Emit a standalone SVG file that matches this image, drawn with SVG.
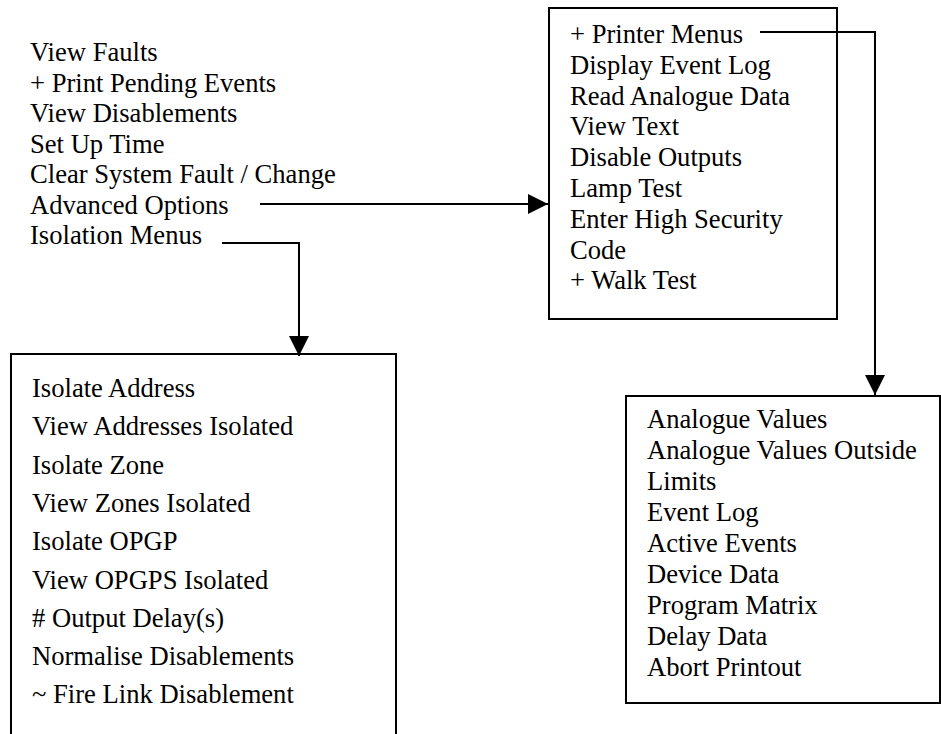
<svg xmlns="http://www.w3.org/2000/svg" width="941" height="734" viewBox="0 0 941 734">
<style>
text{font-family:"Liberation Serif",Tinos,"Times New Roman","DejaVu Serif",serif;font-size:26.6px;fill:#000}
.box{fill:#fff;stroke:#000;stroke-width:2}
.conn{fill:none;stroke:#000;stroke-width:2}
</style>
<defs>
<marker id="ah" viewBox="0 0 20 20" markerWidth="20" markerHeight="20" refX="20" refY="10" orient="auto" markerUnits="userSpaceOnUse">
<path d="M0,0 L20,10 L0,20 Z" fill="#000"/>
</marker>
</defs>
<rect width="941" height="734" fill="#fff"/>
<g id="main-menu" font-family="Liberation Serif, serif">
<text x="30" y="61">View Faults</text>
<text x="30" y="91.5">+ Print Pending Events</text>
<text x="30" y="122">View Disablements</text>
<text x="30" y="152.5">Set Up Time</text>
<text x="30" y="183">Clear System Fault / Change</text>
<text x="30" y="213.5">Advanced Options</text>
<text x="30" y="244">Isolation Menus</text>
</g>
<g id="advanced-options">
<rect class="box" x="549" y="8" width="288" height="311"/>
<text x="570" y="43">+ Printer Menus</text>
<text x="570" y="74">Display Event Log</text>
<text x="570" y="104.5">Read Analogue Data</text>
<text x="570" y="135">View Text</text>
<text x="570" y="166">Disable Outputs</text>
<text x="570" y="197">Lamp Test</text>
<text x="570" y="228">Enter High Security</text>
<text x="570" y="258.5">Code</text>
<text x="570" y="289">+ Walk Test</text>
</g>
<g id="isolation-menus">
<rect class="box" x="11" y="354" width="385" height="400"/>
<text x="32" y="397">Isolate Address</text>
<text x="32" y="435">View Addresses Isolated</text>
<text x="32" y="473.5">Isolate Zone</text>
<text x="32" y="512">View Zones Isolated</text>
<text x="32" y="550">Isolate OPGP</text>
<text x="32" y="588.5">View OPGPS Isolated</text>
<text x="32" y="626.5"># Output Delay(s)</text>
<text x="32" y="665">Normalise Disablements</text>
<text x="32" y="703">~ Fire Link Disablement</text>
</g>
<g id="printer-menus">
<rect class="box" x="626" y="396" width="314" height="307"/>
<text x="647" y="428">Analogue Values</text>
<text x="647" y="459">Analogue Values Outside</text>
<text x="647" y="490">Limits</text>
<text x="647" y="521">Event Log</text>
<text x="647" y="552">Active Events</text>
<text x="647" y="583">Device Data</text>
<text x="647" y="614">Program Matrix</text>
<text x="647" y="645">Delay Data</text>
<text x="647" y="676">Abort Printout</text>
</g>
<g id="connectors">
<path class="conn" d="M260,204 H548" marker-end="url(#ah)"/>
<path class="conn" d="M222,243 H299 V356" marker-end="url(#ah)"/>
<path class="conn" d="M760,32 H875 V395" marker-end="url(#ah)"/>
</g>
</svg>
